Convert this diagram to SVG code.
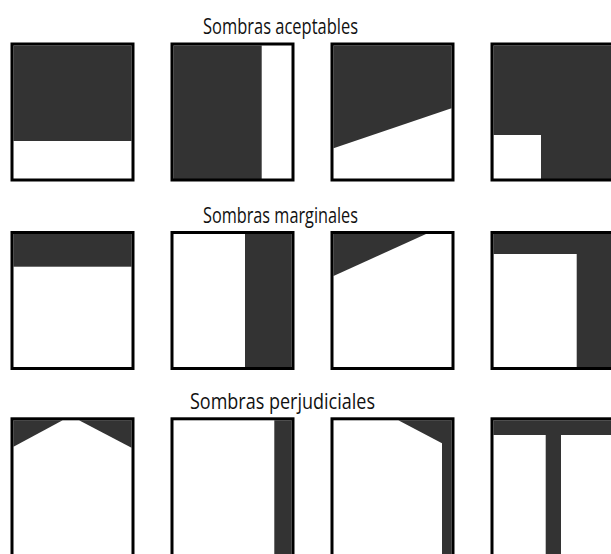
<svg xmlns="http://www.w3.org/2000/svg" width="611" height="554" viewBox="0 0 611 554">
<style>
.bg{fill:#ffffff}
.dk{fill:#333333}
.wh{fill:#ffffff}
.fr{fill:none;stroke:#000000;stroke-width:3}
.lbl{font-family:"Open Sans","Noto Sans","DejaVu Sans",sans-serif;font-size:21px;fill:#111111;text-anchor:middle}
</style>
<rect x="0" y="0" width="611" height="554" fill="#ffffff"/>
<g id="titles">
<text class="lbl" x="280.5" y="34" textLength="155" lengthAdjust="spacingAndGlyphs">Sombras aceptables</text>
<text class="lbl" x="280.5" y="222.5" textLength="155" lengthAdjust="spacingAndGlyphs">Sombras marginales</text>
<text class="lbl" x="282.5" y="408.5" textLength="185" lengthAdjust="spacingAndGlyphs">Sombras perjudiciales</text>
</g>
<!-- Row 1 -->
<g id="r1b1">
<rect class="wh" x="13.5" y="45.5" width="118" height="134.5"/>
<rect class="dk" x="13.5" y="45.5" width="118" height="95.5"/>
<rect class="fr" x="12" y="44" width="121" height="136"/>
</g>
<g id="r1b2">
<rect class="wh" x="173.5" y="45.5" width="118" height="134.5"/>
<rect class="dk" x="173.5" y="45.5" width="88.2" height="134.5"/>
<rect class="fr" x="172" y="44" width="121" height="136"/>
</g>
<g id="r1b3">
<rect class="wh" x="333.5" y="45.5" width="118" height="134.5"/>
<polygon class="dk" points="333.5,45.5 451.5,45.5 451.5,108.3 333.5,148.3"/>
<rect class="fr" x="332" y="44" width="121" height="136"/>
</g>
<g id="r1b4">
<rect class="dk" x="493.5" y="45.5" width="118" height="134.5"/>
<rect class="wh" x="493.5" y="135" width="47.5" height="45"/>
<rect class="fr" x="492" y="44" width="121" height="136"/>
</g>
<!-- Row 2 -->
<g id="r2b1">
<rect class="wh" x="13.5" y="234" width="118" height="134.5"/>
<rect class="dk" x="13.5" y="234" width="118" height="32.7"/>
<rect class="fr" x="12" y="232.5" width="121" height="136"/>
</g>
<g id="r2b2">
<rect class="wh" x="173.5" y="234" width="118" height="134.5"/>
<rect class="dk" x="245" y="234" width="46.5" height="134.5"/>
<rect class="fr" x="172" y="232.5" width="121" height="136"/>
</g>
<g id="r2b3">
<rect class="wh" x="333.5" y="234" width="118" height="134.5"/>
<polygon class="dk" points="333.5,234 426,234 333.5,276"/>
<rect class="fr" x="332" y="232.5" width="121" height="136"/>
</g>
<g id="r2b4">
<rect class="dk" x="493.5" y="234" width="118" height="134.5"/>
<rect class="wh" x="493.5" y="254" width="83.2" height="114.5"/>
<rect class="fr" x="492" y="232.5" width="121" height="136"/>
</g>
<!-- Row 3 -->
<g id="r3b1">
<rect class="wh" x="13.5" y="420.3" width="118" height="140"/>
<polygon class="dk" points="13.5,420.3 62.7,420.3 13.5,446.7"/>
<polygon class="dk" points="79,420.3 131.5,420.3 131.5,447.7"/>
<rect class="fr" x="12" y="418.8" width="121" height="150"/>
</g>
<g id="r3b2">
<rect class="wh" x="173.5" y="420.3" width="118" height="140"/>
<rect class="dk" x="274.3" y="420.3" width="17.2" height="140"/>
<rect class="fr" x="172" y="418.8" width="121" height="150"/>
</g>
<g id="r3b3">
<rect class="wh" x="333.5" y="420.3" width="118" height="140"/>
<polygon class="dk" points="398.3,420.3 451.5,420.3 451.5,560 442,560 442,443.3"/>
<rect class="fr" x="332" y="418.8" width="121" height="150"/>
</g>
<g id="r3b4">
<rect class="wh" x="493.5" y="420.3" width="118" height="140"/>
<rect class="dk" x="493.5" y="420.3" width="118" height="14.7"/>
<rect class="dk" x="545.7" y="435" width="15.3" height="125"/>
<rect class="fr" x="492" y="418.8" width="121" height="150"/>
</g>
</svg>
